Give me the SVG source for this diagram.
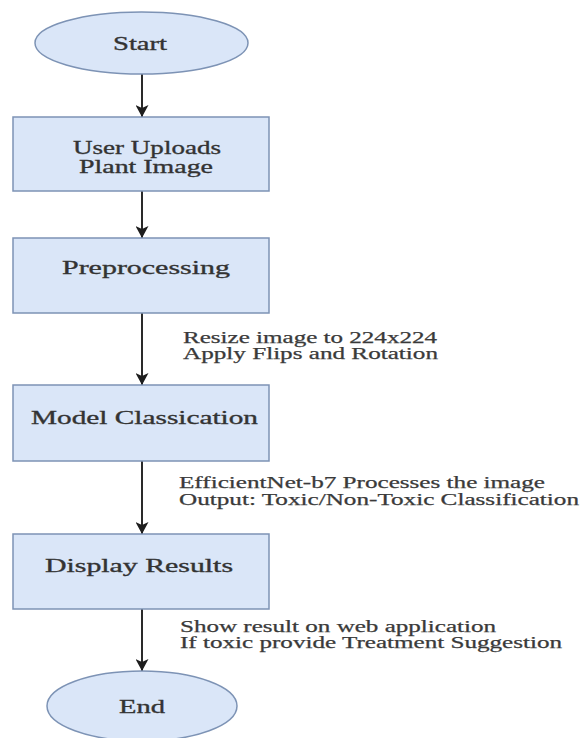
<svg xmlns="http://www.w3.org/2000/svg" width="581" height="738" viewBox="0 0 581 738">
<style>
.node{fill:#dae6f8;stroke:#7d93b5;stroke-width:1.5}
.lbl{font-family:"Liberation Serif","Times New Roman",serif;font-size:19.5px;fill:#333;stroke:#333;stroke-width:0.35}
.ann{font-family:"Liberation Serif","Times New Roman",serif;font-size:16px;fill:#3a3a3a;stroke:#3a3a3a;stroke-width:0.25}
.conn{stroke:#2a2a2a;stroke-width:2;fill:none}
</style>
<defs>
<marker id="arr" markerUnits="userSpaceOnUse" markerWidth="12" markerHeight="13" viewBox="0 0 12 13" refX="12" refY="6.5" orient="auto">
<path d="M0,0 L12,6.5 L0,13 L3,6.5 Z" fill="#1e1e1e"/>
</marker>
</defs>
<rect width="581" height="738" fill="#fff"/>
<g id="connectors">
<line class="conn" x1="142" y1="74" x2="142" y2="117" marker-end="url(#arr)"/>
<line class="conn" x1="142" y1="179" x2="142" y2="238" marker-end="url(#arr)"/>
<line class="conn" x1="142" y1="313" x2="142" y2="385" marker-end="url(#arr)"/>
<line class="conn" x1="142" y1="461" x2="142" y2="534" marker-end="url(#arr)"/>
<line class="conn" x1="142" y1="609" x2="142" y2="671" marker-end="url(#arr)"/>
<text class="ann" x="183" y="343" textLength="254" lengthAdjust="spacingAndGlyphs">Resize image to 224x224</text>
<text class="ann" x="183" y="359" textLength="255" lengthAdjust="spacingAndGlyphs">Apply Flips and Rotation</text>
<text class="ann" x="179" y="488" textLength="366" lengthAdjust="spacingAndGlyphs">EfficientNet-b7 Processes the image</text>
<text class="ann" x="179" y="505" textLength="400" lengthAdjust="spacingAndGlyphs">Output: Toxic/Non-Toxic Classification</text>
<text class="ann" x="180" y="632" textLength="316" lengthAdjust="spacingAndGlyphs">Show result on web application</text>
<text class="ann" x="180" y="648" textLength="382" lengthAdjust="spacingAndGlyphs">If toxic provide Treatment Suggestion</text>
</g>
<g id="start">
<ellipse class="node" cx="141.5" cy="43" rx="106.5" ry="31"/>
<text class="lbl" x="113" y="50" textLength="54" lengthAdjust="spacingAndGlyphs">Start</text>
</g>
<g id="upload">
<rect class="node" x="13" y="117" width="256" height="74"/>
<text class="lbl" x="73" y="154" textLength="148" lengthAdjust="spacingAndGlyphs">User Uploads</text>
<text class="lbl" x="79" y="173" textLength="134" lengthAdjust="spacingAndGlyphs">Plant Image</text>
</g>
<g id="preprocessing">
<rect class="node" x="13" y="238" width="256" height="75"/>
<text class="lbl" x="62" y="274" textLength="168" lengthAdjust="spacingAndGlyphs">Preprocessing</text>
</g>
<g id="classification">
<rect class="node" x="13" y="385" width="256" height="76"/>
<text class="lbl" x="31" y="424" textLength="227" lengthAdjust="spacingAndGlyphs">Model Classication</text>
</g>
<g id="display">
<rect class="node" x="13" y="534" width="256" height="75"/>
<text class="lbl" x="45" y="572" textLength="188" lengthAdjust="spacingAndGlyphs">Display Results</text>
</g>
<g id="end">
<ellipse class="node" cx="142" cy="706" rx="95" ry="35"/>
<text class="lbl" x="119" y="713" textLength="46" lengthAdjust="spacingAndGlyphs">End</text>
</g>
</svg>
